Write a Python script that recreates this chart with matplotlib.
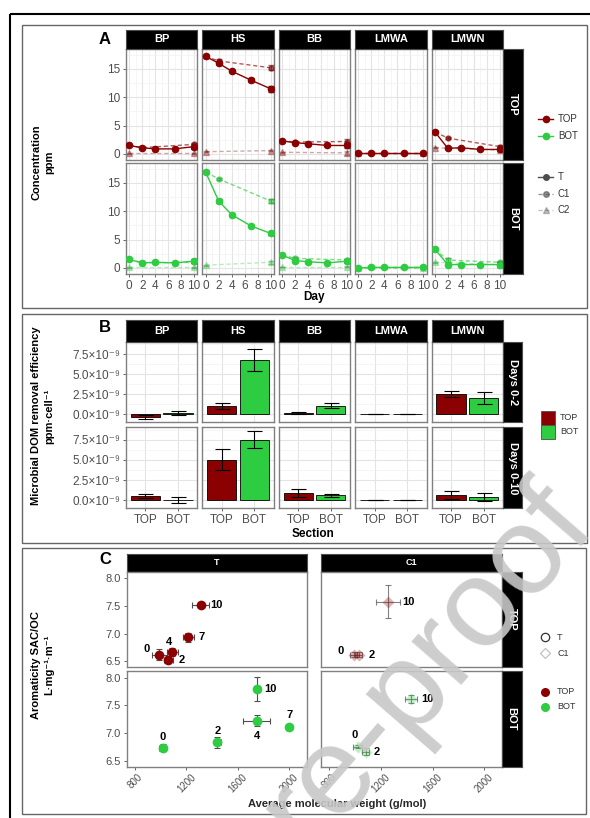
import matplotlib.pyplot as plt
import numpy as np
from matplotlib.patches import Rectangle

plt.rcParams['font.family'] = ['Liberation Sans', 'DejaVu Sans']

# ---------------- data ----------------
sites = ['BP', 'HS', 'BB', 'LMWA', 'LMWN']
sections = ['TOP', 'BOT']

# A: concentration (ppm) by day, one list per site
days_T = [0, 2, 4, 7, 10]
days_C1 = [0, 2, 10]
days_C2 = [0, 10]

conc_T_top = [[1.5, 1.1, 0.9, 0.9, 1.3], [17.2, 16.0, 14.6, 13.0, 11.5],
              [2.3, 2.0, 1.8, 1.5, 1.5], [0.1, 0.1, 0.1, 0.1, 0.1],
              [3.9, 1.0, 1.1, 0.8, 0.8]]
err_T_top = [[0.1, 0.1, 0.1, 0.1, 0.4], [0.3, 0.4, 0.2, 0.4, 0.5],
             [0.2, 0.1, 0.1, 0.1, 0.5], [0.05, 0.05, 0.05, 0.05, 0.05],
             [0.1, 0.1, 0.1, 0.1, 0.3]]
conc_C1_top = [[1.5, 1.1, 1.7], [17.2, 16.4, 15.2], [2.3, 2.1, 2.2],
               [0.1, 0.1, 0.1], [3.9, 2.8, 1.3]]
err_C1_top = [[0.1, 0.1, 0.2], [0.2, 0.3, 0.4], [0.1, 0.1, 0.4],
              [0.05, 0.05, 0.05], [0.1, 0.2, 0.3]]
conc_C2_top = [[0.1, 0.1], [0.4, 0.6], [0.3, 0.2], [0.1, 0.1], [1.1, 0.7]]
err_C2_top = [[0.05, 0.1], [0.1, 0.1], [0.05, 0.3], [0.05, 0.05], [0.1, 0.1]]

conc_T_bot = [[1.5, 0.9, 1.0, 0.9, 1.2], [16.9, 11.8, 9.4, 7.4, 6.1],
              [2.3, 1.3, 1.1, 0.9, 1.2], [0.0, 0.1, 0.1, 0.1, 0.1],
              [3.3, 0.6, 0.6, 0.6, 0.6]]
err_T_bot = [[0.1, 0.1, 0.1, 0.1, 0.3], [0.2, 0.3, 0.2, 0.2, 0.3],
             [0.1, 0.2, 0.1, 0.1, 0.3], [0.05, 0.05, 0.05, 0.05, 0.05],
             [0.1, 0.1, 0.1, 0.1, 0.5]]
conc_C1_bot = [[1.5, 0.9, 1.0], [16.9, 15.7, 11.8], [2.3, 1.7, 1.4],
               [0.0, 0.1, 0.1], [3.3, 1.4, 1.0]]
err_C1_bot = [[0.1, 0.1, 0.1], [0.2, 0.2, 0.4], [0.1, 0.2, 0.2],
              [0.05, 0.05, 0.05], [0.1, 0.4, 0.3]]
conc_C2_bot = [[0.1, 0.1], [0.5, 1.0], [0.2, 0.2], [0.0, 0.0], [1.0, 0.6]]
err_C2_bot = [[0.05, 0.1], [0.1, 0.3], [0.05, 0.1], [0.05, 0.05], [0.1, 0.2]]

# B: removal efficiency (x 1e-9 ppm/cell), per site
eff02_top = [-0.35, 1.03, 0.15, 0.02, 2.52]
eff02_top_err = [0.2, 0.42, 0.12, 0.01, 0.33]
eff02_bot = [0.17, 6.75, 1.07, 0.05, 2.03]
eff02_bot_err = [0.2, 1.35, 0.3, 0.01, 0.8]
eff010_top = [0.5, 5.05, 0.9, 0.05, 0.6]
eff010_top_err = [0.28, 1.3, 0.55, 0.01, 0.5]
eff010_bot = [0.0, 7.5, 0.6, 0.02, 0.4]
eff010_bot_err = [0.38, 1.05, 0.2, 0.01, 0.48]

# C: aromaticity vs molecular weight
lab_T = ['0', '2', '4', '7', '10']
mw_T_top = [989, 1057, 1090, 1215, 1311]
mw_T_top_err = [60, 35, 45, 45, 65]
sac_T_top = [6.62, 6.53, 6.66, 6.93, 7.51]
sac_T_top_err = [0.1, 0.06, 0.07, 0.08, 0.03]
mw_T_bot = [1015, 1440, 1746, 2000, 1751]
mw_T_bot_err = [25, 25, 105, 0, 20]
sac_T_bot = [6.74, 6.84, 7.23, 7.12, 7.80]
sac_T_bot_err = [0.06, 0.1, 0.1, 0.0, 0.22]

lab_C1 = ['0', '2', '10']
mw_C1_top = [989, 1028, 1253]
mw_C1_top_err = [30, 30, 93]
sac_C1_top = [6.62, 6.62, 7.58]
sac_C1_top_err = [0.05, 0.05, 0.3]
mw_C1_bot = [1020, 1082, 1435]
mw_C1_bot_err = [35, 30, 45]
sac_C1_bot = [6.76, 6.67, 7.62]
sac_C1_bot_err = [0.03, 0.06, 0.07]

# label offsets (px) for the day numbers in C
off_T_top = [(-13, -6), (14, 0), (-3, -10), (13, 0), (16, 0)]
off_T_bot = [(0, -11), (0, -11), (0, 15), (0, -12), (13, 0)]
off_C1_top = [(-13, -4), (13, 0), (21, 0)]
off_C1_bot = [(-3, -12), (11, 0), (16, 0)]

RED = '#8B0000'
GREEN = '#2ECC40'
sec_col = {'TOP': RED, 'BOT': GREEN}

# ---------------- layout helpers ----------------
W, H = 590, 818
fig = plt.figure(figsize=(W / 100, H / 100), dpi=100)


def box(l, t, r, b, **kw):
    return fig.add_axes([l / W, 1 - b / H, (r - l) / W, (b - t) / H], **kw)


def strip(l, t, r, b, text, rot=0, size=8):
    s = box(l, t, r, b)
    s.set_facecolor('black')
    s.set_xticks([])
    s.set_yticks([])
    for sp in s.spines.values():
        sp.set_color('0.3')
        sp.set_linewidth(0.8)
    s.text(0.5, 0.5, text, color='white', fontweight='bold', fontsize=size,
           rotation=rot, ha='center', va='center', transform=s.transAxes)


def style(ax, ticksize=8):
    for sp in ax.spines.values():
        sp.set_color('0.5')
        sp.set_linewidth(1.0)
    ax.tick_params(which='both', direction='out', length=2.5, width=0.6,
                   color='0.3', labelcolor='0.3', labelsize=ticksize, pad=1.5)
    ax.tick_params(which='minor', length=0)


def grid(ax):
    ax.grid(True, which='major', color='#e4e4e4', lw=0.8, zorder=0)
    ax.grid(True, which='minor', color='#f1f1f1', lw=0.5, zorder=0)
    ax.set_axisbelow(True)


px2pt = 0.72

# background frames
bg = fig.add_axes([0, 0, 1, 1], zorder=-5)
bg.set_xlim(0, W)
bg.set_ylim(H, 0)
bg.axis('off')
bg.add_patch(Rectangle((10, 14), 600, 820, fill=False, ec='black', lw=1.5))
for (l, t, r, b) in [(22, 25, 587, 308), (22, 314, 587, 543), (22, 548, 586, 814)]:
    bg.add_patch(Rectangle((l, t), r - l, b - t, fill=False, ec='0.4', lw=1.0))

col_l = [126 + i * 76.4 for i in range(5)]
col_w = 71.4

# ---------------- panel A ----------------
rowsA = [(49, 160), (163, 274)]
dataA = {
    'TOP': (conc_T_top, err_T_top, conc_C1_top, err_C1_top, conc_C2_top, err_C2_top),
    'BOT': (conc_T_bot, err_T_bot, conc_C1_bot, err_C1_bot, conc_C2_bot, err_C2_bot),
}
for r, sec in enumerate(sections):
    t, b = rowsA[r]
    cT, eT, c1, e1, c2, e2 = dataA[sec]
    col = sec_col[sec]
    for i, site in enumerate(sites):
        ax = box(col_l[i], t, col_l[i] + col_w, b)
        grid(ax)
        ax.errorbar(days_C2, c2[i], yerr=e2[i], color=col, alpha=0.35, lw=1.0,
                    ls=(0, (3, 2)), marker='^', ms=4.5, ecolor='0.2', capsize=2,
                    elinewidth=0.7, zorder=2)
        ax.errorbar(days_C1, c1[i], yerr=e1[i], color=col, alpha=0.65, lw=1.0,
                    ls=(0, (3, 2)), marker='o', ms=3.5, ecolor='0.2', capsize=2,
                    elinewidth=0.7, zorder=3)
        ax.errorbar(days_T, cT[i], yerr=eT[i], color=col, lw=1.0, marker='o',
                    ms=4.5, ecolor='0.2', capsize=2, elinewidth=0.7, zorder=4)
        ax.set_xlim(-0.5, 10.5)
        ax.set_ylim(-1.06, 18.5)
        ax.set_xticks([0, 2, 4, 6, 8, 10])
        ax.set_xticks([1, 3, 5, 7, 9], minor=True)
        ax.set_yticks([0, 5, 10, 15])
        ax.set_yticks([2.5, 7.5, 12.5, 17.5], minor=True)
        style(ax, 8.5)
        if i > 0:
            ax.tick_params(axis='y', which='both', length=0, labelleft=False)
        if r == 0:
            ax.tick_params(axis='x', which='both', length=0, labelbottom=False)
        if r == 0:
            strip(col_l[i], 30, col_l[i] + col_w, 49, site)
    strip(col_l[4] + col_w, t, 523, b, sec, rot=-90)

# ---------------- panel B ----------------
rowsB = [(341.7, 422.3), (427.3, 508.3)]
dataB = [(eff02_top, eff02_top_err, eff02_bot, eff02_bot_err, 'Days 0-2'),
         (eff010_top, eff010_top_err, eff010_bot, eff010_bot_err, 'Days 0-10')]
for r, (vt, et, vb, eb, lab) in enumerate(dataB):
    t, b = rowsB[r]
    for i, site in enumerate(sites):
        ax = box(col_l[i], t, col_l[i] + col_w, b)
        grid(ax)
        vals = np.array([vt[i], vb[i]]) * 1e-9
        errs = np.array([et[i], eb[i]]) * 1e-9
        ax.bar([0, 1], vals, width=0.9, color=[RED, GREEN], edgecolor='black',
               linewidth=0.6, zorder=2)
        ax.errorbar([0, 1], vals, yerr=errs, fmt='none', ecolor='black',
                    elinewidth=0.8, capsize=5.4, capthick=0.8, zorder=3)
        ax.set_xlim(-0.6, 1.6)
        ax.set_ylim(-1.0e-9, 9.05e-9)
        ax.set_xticks([0, 1])
        ax.set_xticklabels(sections)
        ax.set_yticks([0, 2.5e-9, 5e-9, 7.5e-9])
        ax.set_yticklabels(['0.0×10⁻⁹', '2.5×10⁻⁹', '5.0×10⁻⁹', '7.5×10⁻⁹'])
        ax.set_yticks([1.25e-9, 3.75e-9, 6.25e-9, 8.75e-9], minor=True)
        style(ax, 8.5)
        if i > 0:
            ax.tick_params(axis='y', which='both', length=0, labelleft=False)
        if r == 0:
            ax.tick_params(axis='x', which='both', length=0, labelbottom=False)
            strip(col_l[i], 320, col_l[i] + col_w, 341.7, site)
    strip(col_l[4] + col_w, t, 522, b, lab, rot=-90)

# ---------------- panel C ----------------
colsC = [(126.7, 306.7), (320.7, 501.7)]
rowsC = [(571.7, 666.7), (671, 766.7)]
dataC = {
    (0, 'TOP'): (mw_T_top, mw_T_top_err, sac_T_top, sac_T_top_err, lab_T, off_T_top),
    (0, 'BOT'): (mw_T_bot, mw_T_bot_err, sac_T_bot, sac_T_bot_err, lab_T, off_T_bot),
    (1, 'TOP'): (mw_C1_top, mw_C1_top_err, sac_C1_top, sac_C1_top_err, lab_C1, off_C1_top),
    (1, 'BOT'): (mw_C1_bot, mw_C1_bot_err, sac_C1_bot, sac_C1_bot_err, lab_C1, off_C1_bot),
}
for c, treat in enumerate(['T', 'C1']):
    l, rr = colsC[c]
    strip(l, 554, rr, 571.7, treat, size=6.5)
    for r, sec in enumerate(sections):
        t, b = rowsC[r]
        ax = box(l, t, rr, b)
        mw, mwe, sac, sace, labs, offs = dataC[(c, sec)]
        alpha = 1.0 if c == 0 else 0.3
        marker = 'o' if c == 0 else 'D'
        ms = 7 if c == 0 else 6
        ax.errorbar(mw, sac, xerr=mwe, yerr=sace, fmt='none', ecolor='0.3',
                    elinewidth=0.8, capsize=2.5, capthick=0.8,
                    alpha=1.0 if c == 0 else 0.7, zorder=2)
        ax.plot(mw, sac, ls='none', marker=marker, ms=ms, color=sec_col[sec],
                mec='none', alpha=alpha, zorder=3)
        for x, y, s, (dx, dy) in zip(mw, sac, labs, offs):
            ax.annotate(s, (x, y), xytext=(dx * px2pt, -dy * px2pt),
                        textcoords='offset points', ha='center', va='center',
                        fontsize=8, fontweight='bold', color='black', zorder=4)
        ax.set_xlim(735, 2135)
        ax.set_ylim(6.40, 8.12)
        ax.set_xticks([800, 1200, 1600, 2000])
        ax.set_yticks([6.5, 7.0, 7.5, 8.0])
        ax.set_yticklabels(['6.5', '7.0', '7.5', '8.0'])
        style(ax, 8)
        ax.tick_params(axis='x', labelsize=7)
        if c > 0:
            ax.tick_params(axis='y', length=0, labelleft=False)
        if r == 0:
            ax.tick_params(axis='x', length=0, labelbottom=False)
        else:
            for tl in ax.get_xticklabels():
                tl.set_rotation(45)
                tl.set_ha('center')
                tl.set_va('top')
        if c == 1:
            strip(rr, t, 521.7, b, sec, rot=-90)

# ---------------- titles, legends, watermark ----------------
ov = fig.add_axes([0, 0, 1, 1], zorder=10)
ov.set_xlim(0, W)
ov.set_ylim(H, 0)
ov.axis('off')

for x, y, s in [(105, 40, 'A'), (105, 328, 'B'), (105, 560, 'C')]:
    ov.text(x, y, s, fontsize=12, fontweight='bold', ha='center', va='center')

ov.text(314, 297, 'Day', fontsize=8.5, fontweight='bold', ha='center', va='center')
ov.text(313, 534, 'Section', fontsize=8.5, fontweight='bold', ha='center', va='center')
ov.text(337, 804, 'Average molecular weight (g/mol)', fontsize=8,
        fontweight='bold', ha='center', va='center', color='0.15')
ov.text(43, 162, 'Concentration\nppm', fontsize=8, fontweight='bold',
        rotation=90, ha='center', va='center', linespacing=1.4)
ov.text(43, 416, 'Microbial DOM removal efficiency\nppm·cell⁻¹', fontsize=8,
        fontweight='bold', rotation=90, ha='center', va='center', linespacing=1.4)
ov.text(43, 665, 'Aromaticity SAC/OC\nL·mg⁻¹·m⁻¹', fontsize=8,
        fontweight='bold', rotation=90, ha='center', va='center', linespacing=1.4)

# legend A
for y, s in [(119, 'TOP'), (136, 'BOT')]:
    ov.plot([538, 553], [y, y], color=sec_col[s], lw=1.0)
    ov.plot([545.5], [y], 'o', color=sec_col[s], ms=4.5)
    ov.text(558, y, s, fontsize=7, va='center', color='0.2')
for y, s, a, m, ls in [(177, 'T', 1.0, 'o', '-'), (194, 'C1', 0.6, 'o', (0, (3, 2))),
                       (210, 'C2', 0.35, '^', (0, (3, 2)))]:
    ov.plot([538, 553], [y, y], color='0.3', lw=1.0, ls=ls, alpha=a)
    ov.plot([545.5], [y], m, color='0.3', ms=4, alpha=a)
    ov.text(558, y, s, fontsize=7, va='center', color='0.2')

# legend B
for y, s in [(411, 'TOP'), (425, 'BOT')]:
    ov.add_patch(Rectangle((540.7, y), 14.3, 14, fc=sec_col[s], ec='0.3', lw=0.6))
    ov.text(560, y + 7, s, fontsize=6.5, va='center', color='0.2')

# legend C
ov.plot([545], [637], 'o', mfc='none', mec='0.2', ms=6, mew=0.9)
ov.text(557, 637, 'T', fontsize=6.5, va='center', color='0.2')
ov.plot([545], [653], 'D', mfc='none', mec='0.2', ms=5.5, mew=0.9, alpha=0.3)
ov.text(557, 653, 'C1', fontsize=6.5, va='center', color='0.2')
for y, s in [(691.7, 'TOP'), (706.7, 'BOT')]:
    ov.plot([545], [y], 'o', color=sec_col[s], ms=6.5, mec='none')
    ov.text(557, y, s, fontsize=6.5, va='center', color='0.2')

# watermark
ov.text(598, 528, 'Journal Pre-proof', fontsize=90, color='#c8c8c8', alpha=0.9,
        rotation=49, ha='right', va='baseline', rotation_mode='anchor', zorder=20)

fig.savefig('out.png', dpi=100)
